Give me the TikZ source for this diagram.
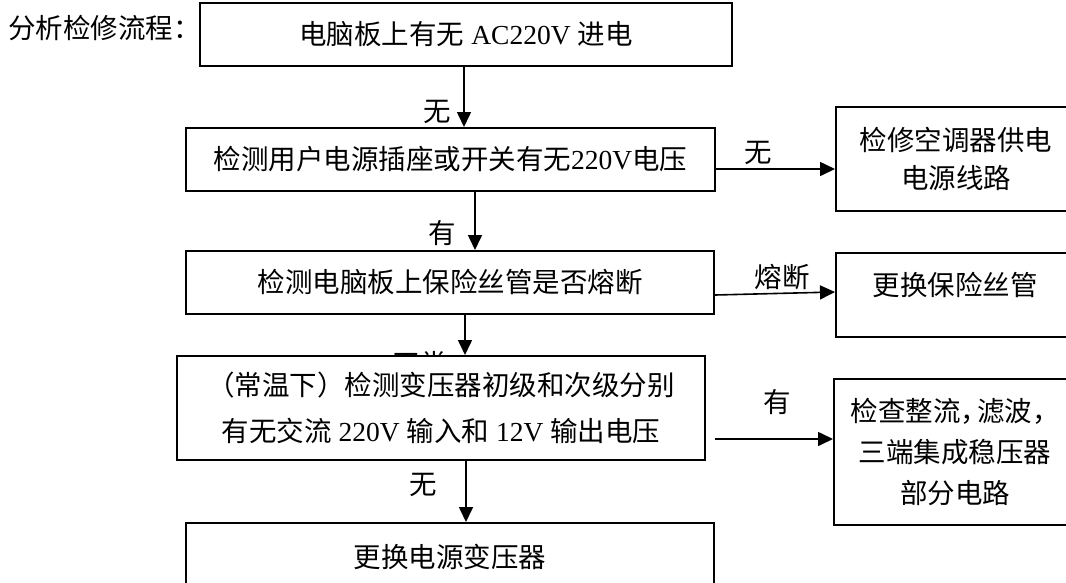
\documentclass[tikz,border=0pt]{standalone}
\usepackage{fontspec}
\setmainfont{Liberation Serif}
\newfontfamily\cjk{Noto Sans CJK SC}
\usetikzlibrary{arrows.meta}
\newcommand\zh[1]{{\cjk #1}}
\begin{document}
\begin{tikzpicture}[x=1pt,y=-1pt,
 txt/.style={font=\fontsize{27.5}{32}\selectfont},
 box/.style={draw,line width=2pt,fill=white,inner sep=0pt,align=center,txt},
 arr/.style={line width=1.6pt,-{Triangle[length=15pt,width=14pt]}},
 lbl/.style={txt,inner sep=0pt}]
\useasboundingbox (0,0) rectangle (1066,582);
% title
\node[lbl,anchor=west] (t) at (8,28) {\zh{分析检修流程：}};
% main column
\node[box,minimum width=532pt,minimum height=63pt] (b1) at (466,34.5) {\zh{电脑板上有无} AC220V \zh{进电}};
\node[box,minimum width=529pt,minimum height=63pt] (b2) at (450.5,159.5) {\zh{检测用户电源插座或开关有无}220V\zh{电压}};
\node[box,minimum width=528pt,minimum height=63pt] (b3) at (450,282.5) {\zh{检测电脑板上保险丝管是否熔断}};
\node[lbl] (l3) at (420,364) {\zh{正常}};
\node[box,minimum width=528pt,minimum height=104pt,font=\fontsize{27.5}{46}\selectfont] (b4) at (441,408) {\zh{（常温下）检测变压器初级和次级分别}\\\zh{有无交流} 220V \zh{输入和} 12V \zh{输出电压}};
\node[box,minimum width=528pt,minimum height=77pt] (b5) at (450,561.5) {};
\node[lbl] (b5t) at (450,557) {\zh{更换电源变压器}};
% right column
\node[box,minimum width=240pt,minimum height=104pt,font=\fontsize{27.5}{38}\selectfont] (r1) at (956,159) {\zh{检修空调器供电}\\\zh{电源线路}};
\node[box,minimum width=240pt,minimum height=84pt] (r2) at (956,295) {};
\node[lbl] (r2t) at (955,285) {\zh{更换保险丝管}};
\node[box,minimum width=242pt,minimum height=146pt,font=\fontsize{27.5}{41}\selectfont] (r3) at (955,452) {\zh{检查整流，}\hspace{-11pt}\zh{滤波，}\hspace{-11pt}\\\zh{三端集成稳压器}\\\zh{部分电路}};
% connector positions
\coordinate (c1) at (464,0);
\coordinate (c2) at (475,0);
\coordinate (c3) at (465,0);
\coordinate (c4) at (466,0);
\coordinate (h1) at (0,169);
\coordinate (h2a) at (0,295);
\coordinate (h2b) at (0,292);
\coordinate (s4) at (715,439);
% vertical arrows
\draw[arr] (b1.south -| c1) -- (b2.north -| c1);
\draw[arr] (b2.south -| c2) -- (b3.north -| c2);
\draw[arr] (b3.south -| c3) -- (b4.north -| c3);
\draw[arr] (b4.south -| c4) -- (b5.north -| c4);
% horizontal arrows
\draw[arr] (b2.east |- h1) -- (r1.west |- h1);
\draw[arr] (b3.east |- h2a) -- (r2.west |- h2b);
\draw[arr] (s4) -- (r3.west |- s4);
% labels
\node[lbl] (l1) at (437,112) {\zh{无}};
\node[lbl] (l2) at (442,233) {\zh{有}};
\node[lbl] (l4) at (423,485) {\zh{无}};
\node[lbl] (l5) at (758,153) {\zh{无}};
\node[lbl] (l6) at (782,277) {\zh{熔断}};
\node[lbl] (l7) at (777,402) {\zh{有}};
\end{tikzpicture}
\end{document}
